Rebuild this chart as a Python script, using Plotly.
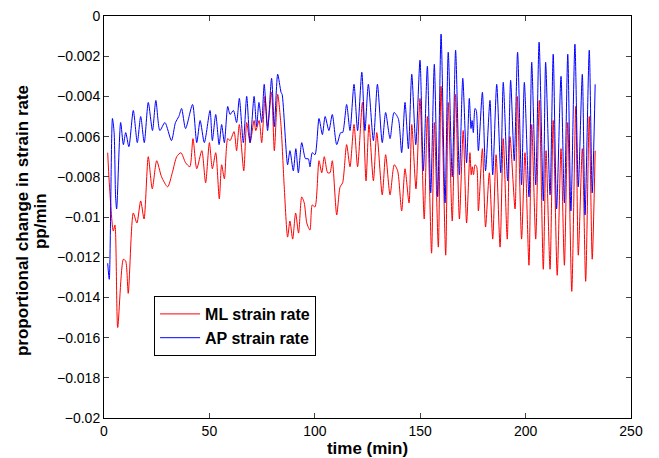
import plotly.graph_objects as go

# ML strain rate (red)
ml_t = [1.75, 2.5, 4.4, 5.2, 6.5, 9.2, 10.3, 11.5, 13.9, 15.6, 17.4, 19.0, 21.0, 22.9, 25.0, 27.3,
        30.2, 32.4, 34.5, 36.5, 38.7, 40.7, 42.2, 44.0, 46.4, 48.2, 50.0, 51.4, 53.0, 54.7, 55.8,
        57.1, 58.7, 59.8, 61.7, 62.9, 64.2, 66.3, 67.7, 69.3, 71.2, 72.0, 73.6, 74.8, 76.4, 77.6,
        79.5, 80.8, 82.4, 84.0, 85.5, 87.1, 88.2, 89.5, 90.9, 92.3, 93.8, 95.0, 96.2, 97.7, 98.8,
        100.1, 102.0, 103.3, 104.5, 106.1, 107.2, 108.3, 110.4, 112.0, 113.2, 115.1, 116.7, 118.6,
        120.3, 122.6, 124.3, 125.7, 127.8, 129.4, 132.0, 133.6, 135.7, 137.7, 139.3, 141.2, 142.8,
        144.7, 146.0, 148.0, 149.9, 151.9, 153.4, 155.4, 156.7, 158.6, 159.9, 162.1, 163.3, 165.2,
        166.8, 168.6, 170.4, 172.0, 173.6, 174.2, 174.7, 175.3, 176.0, 176.8, 177.6, 179.5, 181.0,
        182.8, 184.4, 186.0, 187.9, 189.4, 191.3, 192.6, 195.0, 196.1, 198.1, 199.7, 201.6, 202.9,
        204.8, 206.5, 208.4, 209.7, 211.6, 213.1, 215.0, 216.8, 218.4, 220.0, 221.9, 223.8, 225.0,
        226.9, 228.5, 230.2, 231.6, 233.0]
ml_v = [-0.0068, -0.0083, -0.0107, -0.0104, -0.0155, -0.0121, -0.0122, -0.0138, -0.0098, -0.0103,
        -0.0092, -0.0101, -0.0070, -0.0086, -0.0072, -0.0080, -0.0085, -0.0078, -0.0070, -0.0068,
        -0.0073, -0.0075, -0.0061, -0.0076, -0.0067, -0.0083, -0.0063, -0.0076, -0.0068, -0.0091,
        -0.0074, -0.0081, -0.0061, -0.0062, -0.00575, -0.0067, -0.0054, -0.0077, -0.0053, -0.0063,
        -0.0052, -0.0057, -0.0052, -0.0063, -0.0040, -0.0055, -0.0038, -0.0067, -0.0039, -0.0055,
        -0.0085, -0.0110, -0.0102, -0.0111, -0.0098, -0.0108, -0.0090, -0.0093, -0.0103, -0.01065,
        -0.0094, -0.0095, -0.0072, -0.0078, -0.0070, -0.0078, -0.0078, -0.0072, -0.0099, -0.0085,
        -0.0083, -0.0064, -0.0075, -0.0054, -0.0075, -0.0043, -0.0082, -0.0054, -0.0082, -0.0058,
        -0.0089, -0.0069, -0.0089, -0.0074, -0.0077, -0.0097, -0.0076, -0.0093, -0.0054, -0.0086,
        -0.0041, -0.0101, -0.0050, -0.0118, -0.0053, -0.0115, -0.0035, -0.0119, -0.0043, -0.0102,
        -0.0039, -0.0101, -0.0057, -0.0103, -0.0068, -0.0079, -0.0075, -0.0079, -0.0074, -0.0075,
        -0.0097, -0.0066, -0.0105, -0.0078, -0.0111, -0.0069, -0.0115, -0.0061, -0.0111, -0.0060,
        -0.0096, -0.0040, -0.0111, -0.0068, -0.0124, -0.0054, -0.0111, -0.0042, -0.0126, -0.0067,
        -0.0126, -0.0052, -0.0129, -0.0066, -0.0124, -0.0053, -0.0137, -0.0045, -0.0119, -0.0066,
        -0.0132, -0.0050, -0.0121, -0.0067]

# AP strain rate (blue)
ap_t = [1.75, 2.5, 4.0, 4.8, 5.5, 6.0, 7.9, 9.2, 10.3, 11.8, 13.9, 15.8, 17.4, 19.1, 21.0, 23.0,
        24.6, 26.5, 28.9, 32.0, 33.9, 35.5, 36.8, 38.7, 42.0, 44.0, 45.6, 47.6, 50.3, 51.4, 53.0,
        54.6, 55.8, 57.1, 58.7, 59.8, 61.4, 62.9, 64.2, 66.1, 67.7, 69.3, 71.2, 72.4, 73.5, 74.8,
        76.0, 77.6, 79.5, 80.8, 82.4, 84.0, 84.5, 87.1, 88.2, 89.8, 91.0, 92.2, 93.8, 95.6, 96.9,
        97.7, 98.8, 100.1, 102.0, 103.6, 104.9, 106.7, 108.3, 110.4, 112.3, 113.2, 115.1, 116.7,
        118.6, 120.3, 122.3, 123.8, 125.4, 127.8, 129.7, 132.0, 133.6, 135.7, 137.6, 139.6, 141.2,
        142.8, 144.4, 146.0, 147.9, 149.9, 151.5, 153.4, 155.0, 156.7, 158.3, 159.9, 161.8, 163.3,
        165.2, 166.8, 168.6, 170.2, 172.0, 173.3, 174.1, 174.6, 175.2, 176.0, 176.6, 177.6, 179.5,
        181.0, 183.1, 184.4, 186.3, 188.2, 189.4, 191.5, 192.9, 194.6, 196.2, 198.1, 199.4, 201.6,
        202.9, 204.8, 206.4, 208.4, 209.5, 211.6, 213.1, 214.7, 216.8, 218.4, 220.0, 221.5, 223.4,
        225.0, 226.9, 228.2, 230.2, 231.6, 233.0]
ap_v = [-0.0123, -0.0131, -0.0051, -0.0058, -0.0090, -0.0096, -0.0053, -0.0064, -0.0058, -0.0065,
        -0.0047, -0.0063, -0.0050, -0.0063, -0.0043, -0.0057, -0.0042, -0.0057, -0.0053, -0.0062,
        -0.0053, -0.0050, -0.0046, -0.0056, -0.0044, -0.0063, -0.0052, -0.0063, -0.0047, -0.0062,
        -0.0049, -0.0064, -0.0054, -0.0063, -0.0045, -0.0049, -0.0047, -0.0053, -0.0041, -0.0063,
        -0.0040, -0.0063, -0.0040, -0.0055, -0.0043, -0.0053, -0.0034, -0.0057, -0.0031, -0.0055,
        -0.0029, -0.0038, -0.0039, -0.0074, -0.0067, -0.0077, -0.0066, -0.0078, -0.0063, -0.0071,
        -0.0071, -0.0075, -0.0068, -0.0069, -0.0051, -0.0059, -0.0050, -0.0057, -0.0049, -0.0064,
        -0.0058, -0.0058, -0.0044, -0.0057, -0.0034, -0.0057, -0.0028, -0.0057, -0.0034, -0.0062,
        -0.0034, -0.0063, -0.0048, -0.0061, -0.0048, -0.0051, -0.0068, -0.0043, -0.0066, -0.0029,
        -0.0064, -0.0022, -0.0077, -0.0025, -0.0088, -0.0024, -0.0090, -0.0009, -0.0093, -0.0018,
        -0.0080, -0.0017, -0.0079, -0.0031, -0.0073, -0.0041, -0.0056, -0.0052, -0.0058, -0.0046,
        -0.0047, -0.0067, -0.0038, -0.0077, -0.0042, -0.0079, -0.0034, -0.0078, -0.0033, -0.0082,
        -0.0032, -0.0072, -0.0018, -0.0084, -0.0033, -0.0090, -0.0023, -0.0084, -0.0013, -0.0092,
        -0.0023, -0.0089, -0.0019, -0.0096, -0.0030, -0.0093, -0.0019, -0.0097, -0.0014, -0.0085,
        -0.0029, -0.0099, -0.0017, -0.0088, -0.0034]

x_ticks = [0, 50, 100, 150, 200, 250]
y_ticks = [0, -0.002, -0.004, -0.006, -0.008, -0.01, -0.012, -0.014, -0.016, -0.018, -0.02]
y_labels = ["0", "\u22120.002", "\u22120.004", "\u22120.006", "\u22120.008", "\u22120.01",
            "\u22120.012", "\u22120.014", "\u22120.016", "\u22120.018", "\u22120.02"]
y_title_lines = ["proportional change in strain rate", "pp/min"]

fig = go.Figure()
fig.add_trace(go.Scatter(x=ml_t, y=ml_v, mode="lines", name="<b>ML strain rate</b>",
                         line=dict(color="#ff0000", width=1, shape="spline", smoothing=0.7)))
fig.add_trace(go.Scatter(x=ap_t, y=ap_v, mode="lines", name="<b>AP strain rate</b>",
                         line=dict(color="#0000ff", width=1, shape="spline", smoothing=0.7)))

font_family = "Liberation Sans, Arial, sans-serif"
# the page body adds an 8px offset, so the figure is 8px smaller on each axis
fig.update_layout(
    width=651, height=450,
    margin=dict(l=96, r=28, t=8, b=40, autoexpand=False),
    paper_bgcolor="white", plot_bgcolor="white",
    font=dict(family=font_family, size=14, color="black"),
    showlegend=True,
    legend=dict(x=0.095, y=0.3035, xanchor="left", yanchor="top",
                bordercolor="black", borderwidth=1, bgcolor="white",
                font=dict(size=16, color="black"), tracegroupgap=0,
                itemwidth=40),
)
for i, txt in enumerate(y_title_lines):
    fig.add_annotation(text="<b>%s</b>" % txt, xref="paper", yref="paper",
                       x=0, y=0.49, xanchor="center", yanchor="middle",
                       xshift=-82 + 18 * i, textangle=-90, showarrow=False,
                       font=dict(size=17, color="black"))
fig.update_xaxes(range=[0, 250], tickvals=x_ticks, ticks="inside", ticklen=5,
                 showline=True, linecolor="black", linewidth=1, mirror="allticks",
                 showgrid=False, zeroline=False, automargin=False, ticklabeloverflow="allow",
                 title=dict(text="<b>time (min)</b>", font=dict(size=17), standoff=4))
fig.update_yaxes(range=[-0.02, 0], tickvals=y_ticks, ticktext=y_labels, ticks="inside", ticklen=5,
                 showline=True, linecolor="black", linewidth=1, mirror="allticks",
                 showgrid=False, zeroline=False, automargin=False, ticklabeloverflow="allow")

fig.write_html("out.html")
